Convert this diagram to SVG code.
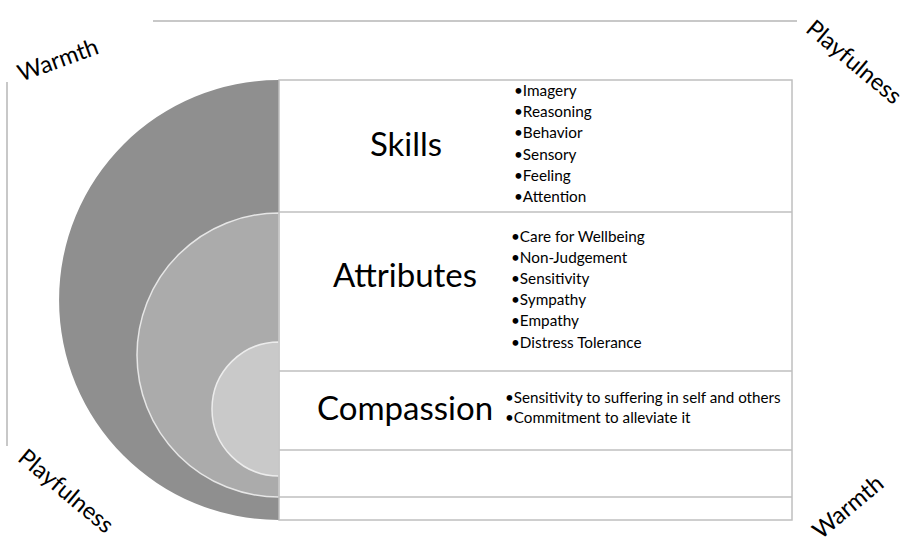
<svg xmlns="http://www.w3.org/2000/svg" width="922" height="543" viewBox="0 0 922 543">
<style>
.frame{fill:none;stroke:#bfbfbf;stroke-width:1.5}
.axis{fill:none;stroke:#c8c8c8;stroke-width:2}
.big{font-family:Lato,"Liberation Sans",sans-serif;font-size:33px;fill:#000;text-anchor:middle}
.item{font-family:Lato,"Liberation Sans",sans-serif;font-size:15.3px;fill:#000}
.small{font-family:Lato,"Liberation Sans",sans-serif;font-size:15.2px;fill:#000}
.corner{font-family:Lato,"Liberation Sans",sans-serif;font-size:23.5px;fill:#000;text-anchor:middle}
</style>
<rect width="922" height="543" fill="#fff"/>
<g id="axes">
<line class="axis" x1="153" y1="21" x2="797" y2="21"/>
<line class="axis" x1="7" y1="82" x2="7" y2="446"/>
</g>
<g id="layers">
<path d="M279,80 A220,220 0 0 0 279,520 Z" fill="#8f8f8f"/>
<path d="M279,213 A142,142 0 0 0 279,497 Z" fill="#ababab" stroke="#e6e6e6" stroke-width="1.5"/>
<path d="M279,342 A67,67 0 0 0 279,476 Z" fill="#c9c9c9" stroke="#ececec" stroke-width="1.5"/>
</g>
<g id="table">
<rect class="frame" x="279" y="80" width="513" height="440" fill="#fff"/>
<line class="frame" x1="279" y1="212" x2="792" y2="212"/>
<line class="frame" x1="279" y1="371" x2="792" y2="371"/>
<line class="frame" x1="279" y1="450" x2="792" y2="450"/>
<line class="frame" x1="279" y1="497" x2="792" y2="497"/>
</g>
<g id="skills">
<text class="big" x="406" y="156">Skills</text>
<text class="item" x="514" y="96">•Imagery</text>
<text class="item" x="514" y="117">•Reasoning</text>
<text class="item" x="514" y="138">•Behavior</text>
<text class="item" x="514" y="160">•Sensory</text>
<text class="item" x="514" y="181">•Feeling</text>
<text class="item" x="514" y="202">•Attention</text>
</g>
<g id="attributes">
<text class="big" x="405" y="287">Attributes</text>
<text class="item" x="511" y="242">•Care for Wellbeing</text>
<text class="item" x="511" y="263">•Non-Judgement</text>
<text class="item" x="511" y="284">•Sensitivity</text>
<text class="item" x="511" y="305">•Sympathy</text>
<text class="item" x="511" y="326">•Empathy</text>
<text class="item" x="511" y="348">•Distress Tolerance</text>
</g>
<g id="compassion">
<text class="big" x="405" y="420">Compassion</text>
<text class="small" x="505" y="403">•Sensitivity to suffering in self and others</text>
<text class="small" x="505" y="423">•Commitment to alleviate it</text>
</g>
<g id="corners">
<text class="corner" transform="translate(58,60) rotate(-20)" y="8">Warmth</text>
<text class="corner" transform="translate(854,62) rotate(40)" y="8">Playfulness</text>
<text class="corner" transform="translate(66,491) rotate(40)" y="8">Playfulness</text>
<text class="corner" transform="translate(848,507) rotate(-40)" y="8">Warmth</text>
</g>
</svg>
